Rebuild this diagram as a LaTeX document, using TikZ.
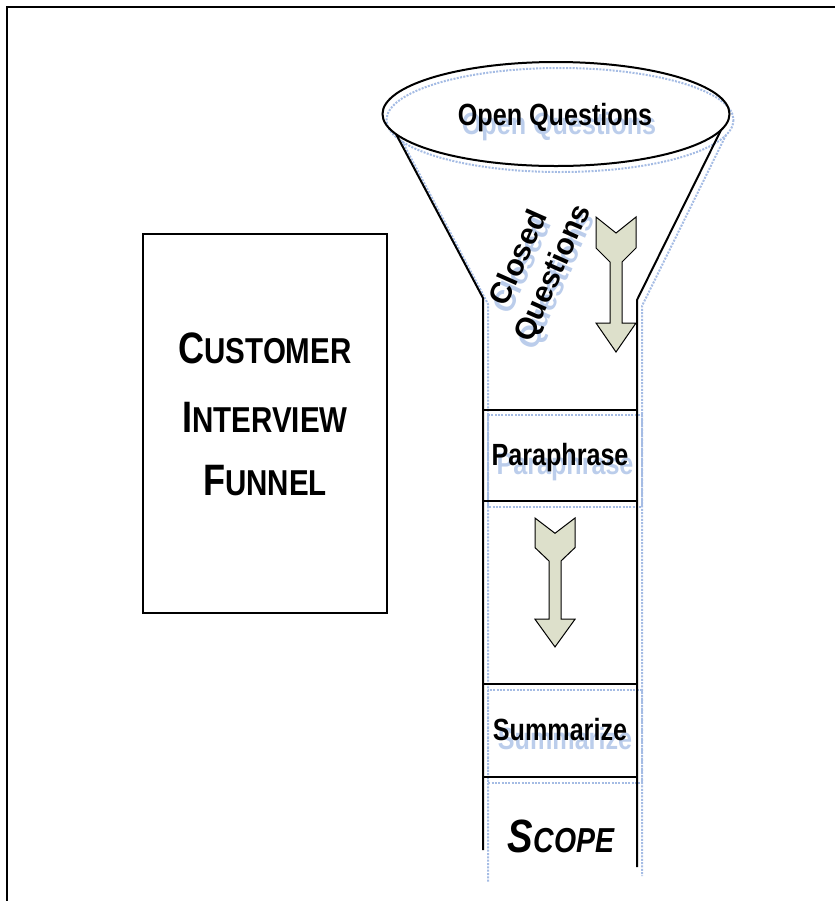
\documentclass[tikz,border=0pt]{standalone}
\usepackage{fontspec}
\setmainfont{Liberation Sans}
\newfontfamily\narrowsf{Liberation Sans}[FakeStretch=0.82]

\definecolor{arrowfill}{RGB}{221,224,203}
\definecolor{shadeblue}{RGB}{165,188,228}

\tikzset{every picture/.style={line width=0.75pt}}
\tikzset{
	outline/.style={line width=1.5pt},
	shadeline/.style={draw=shadeblue, densely dotted, line width=1.5pt},
	lbl/.style={anchor=base, inner sep=0pt, font=\narrowsf\bfseries\fontsize{23}{26}\selectfont},
	lblshade/.style={lbl, text=shadeblue!75},
	% pics do not take the picture's y flip, so y runs downwards as negative here
	downarrow/.pic={
		\draw[fill=arrowfill, line width=0.75pt] (-20,0) -- (0,-16) -- (20,0) -- (20,-31) -- (6,-45) -- (6,-106) -- (20,-106) -- (0,-135) -- (-20,-106) -- (-6,-106) -- (-6,-45) -- (-20,-31) -- cycle ;
	}
}
\newcommand\capword[2]{{\fontsize{33}{36}\selectfont #1}{\fontsize{27}{30}\selectfont #2}}

\begin{document}
\begin{tikzpicture}[x=0.75pt,y=0.75pt,yscale=-1,xscale=1]
		\useasboundingbox (0,0) rectangle (835,901);

		%Frame
		\draw [line width=2pt]  (7,901) -- (7,7) -- (835,7) ;

		%Shape: Rectangle (title)
		\draw [outline]  (143,234) rectangle (387,613) ;
		\node [lbl, font=\narrowsf\bfseries] (title1) at (265,363) {\capword{C}{USTOMER}};
		\node [lbl, font=\narrowsf\bfseries] (title2) at (265,432) {\capword{I}{NTERVIEW}};
		\node [lbl, font=\narrowsf\bfseries] (title3) at (265,495) {\capword{F}{UNNEL}};

		%Shadows of the funnel
		\draw [shadeline]  (560,120) ellipse [x radius=173.5, y radius=52] ;
		\draw [shadeline]  (402,141) -- (488,304) -- (488,882) ;
		\draw [shadeline]  (726,135) -- (642,306) -- (642,876) ;
		\draw [shadeline]  (488,415) rectangle (642,507) ;
		\draw [shadeline]  (488,690) rectangle (642,783) ;

		%Funnel sides and stem
		\draw [outline]  (396,134) -- (483,298) -- (483,850) ;
		\draw [outline]  (721,130) -- (637,300) -- (637,867) ;
		%Shape: Ellipse (mouth)
		\draw [outline]  (556,114) ellipse [x radius=173.5, y radius=52] ;

		%Stages
		\draw [outline]  (483,410) rectangle (637,501) ;
		\draw [outline]  (483,684) rectangle (637,777) ;

		%Block arrows
		\pic at (616,217) {downarrow};
		\pic [yscale=0.955] at (555,518) {downarrow};

		%Labels
		\node [lblshade] at (559,134) {Open Questions};
		\node [lbl] (open) at (555,125) {Open Questions};

		\node [lblshade, font=\bfseries\fontsize{22.5}{28}\selectfont, align=center, rotate=66, anchor=center] at (541,274) {Closed\\Questions};
		\node [lbl, font=\bfseries\fontsize{22.5}{28}\selectfont, align=center, rotate=66, anchor=center] (closed) at (537,266) {Closed\\Questions};

		\node [lblshade] at (565,474) {Paraphrase};
		\node [lbl] (para) at (560,465) {Paraphrase};

		\node [lblshade] at (565,749) {Summarize};
		\node [lbl] (summ) at (560,740) {Summarize};

		\node [lbl, font=\narrowsf\bfseries\itshape] (scope) at (561,852) {{\fontsize{35}{38}\selectfont S}{\fontsize{26}{30}\selectfont COPE}};

\end{tikzpicture}
\end{document}
